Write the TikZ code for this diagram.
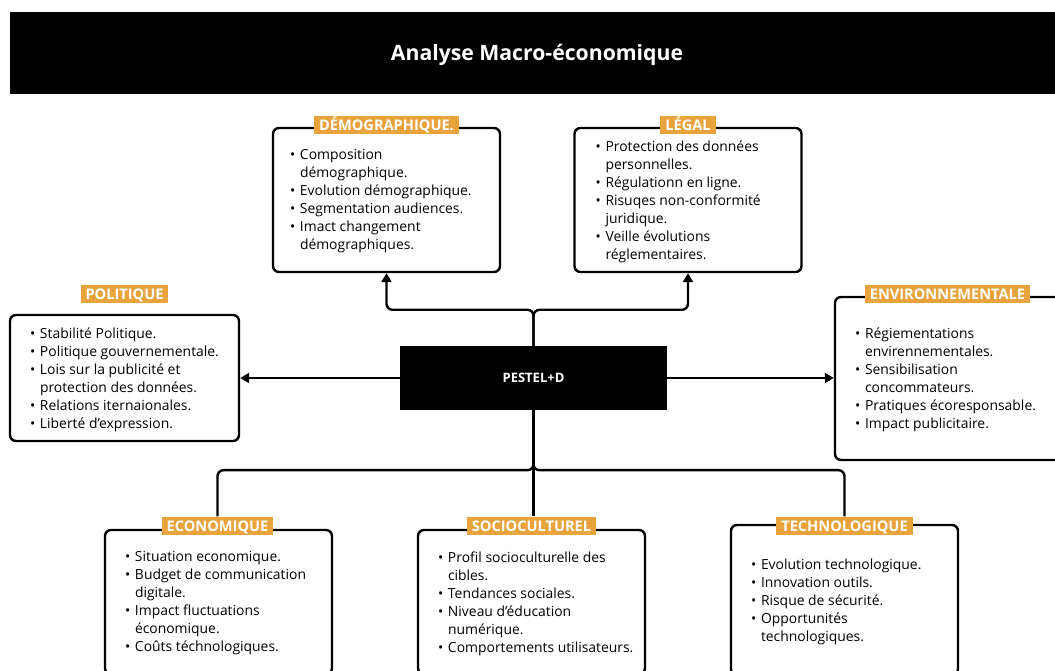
\documentclass[tikz,border=0pt]{standalone}
\usepackage{fontspec}
\setmainfont{Open Sans}
\usetikzlibrary{arrows.meta,positioning}

\definecolor{etiquette}{HTML}{E9A33C}
\newcommand{\puce}{\makebox[10pt][l]{\textbullet}}
\newcommand{\suite}{\hspace*{10pt}}

\begin{document}
\begin{tikzpicture}[
    x=1pt,y=1pt,
    boite/.style={draw,line width=2.4pt,rounded corners=6pt,minimum width=227pt,inner sep=0pt},
    texte/.style={anchor=west,align=left,inner sep=0pt,font=\fontsize{13.9}{18}\selectfont},
    etiq/.style={fill=etiquette,text=white,font=\bfseries\fontsize{14.6}{15}\selectfont,
        inner xsep=5pt,inner ysep=3.5pt,text height=11pt,text depth=0.5pt},
    lien/.style={line width=2.4pt,rounded corners=6pt},
    fleche/.style={lien,-{Triangle[length=9pt,width=10pt]}}
]
\clip (0,0) rectangle (1055,671);
\fill[white] (0,0) rectangle (1055,671);

% Bandeau du titre
\node[fill=black,minimum width=1045pt,minimum height=82pt,inner sep=0pt] (bandeau) at (532.5,618) {};
\node[text=white,font=\bfseries\fontsize{21.2}{24}\selectfont] (titre) at (537,616.5) {Analyse Macro-économique};

% Bloc central
\node[fill=black,minimum width=267pt,minimum height=64pt,inner sep=0pt,text=white,
    font=\bfseries\fontsize{13}{15}\selectfont] (pestel) at (533.5,293) {PESTEL+D};

% Les cadres
\node[boite,minimum height=144pt] (demo) at (386.5,471) {};
\node[boite,minimum height=144pt] (legal) at (688,471) {};
\node[boite,minimum width=229pt,minimum height=126pt] (poli) at (124.5,293) {};
\node[boite,minimum height=163pt] (env) at (948.5,292.5) {};
\node[boite,minimum height=144pt] (eco) at (218.5,69) {};
\node[boite,minimum height=144pt] (socio) at (531.5,69) {};
\node[boite,minimum height=150pt] (tech) at (844.5,71) {};

% Contenu des cadres
\node[texte] (demotxt) at ([xshift=18pt,yshift=-1.5pt]demo.west) {\puce Composition\\\suite démographique.\\\puce Evolution démographique.\\\puce Segmentation audiences.\\\puce Imact changement\\\suite démographiques.};
\node[texte] (legaltxt) at ([xshift=22pt,yshift=-1.5pt]legal.west) {\puce Protection des données\\\suite personnelles.\\\puce Régulationn en ligne.\\\puce Risuqes non-conformité\\\suite juridique.\\\puce Veille évolutions\\\suite réglementaires.};
\node[texte] (politxt) at ([xshift=21pt,yshift=-1.5pt]poli.west) {\puce Stabilité Politique.\\\puce Politique gouvernementale.\\\puce Lois sur la publicité et\\\suite protection des données.\\\puce Relations iternaionales.\\\puce Liberté d’expression.};
\node[texte] (envtxt) at ([xshift=21pt,yshift=-1.5pt]env.west) {\puce Régiementations\\\suite envirennementales.\\\puce Sensibilisation\\\suite concommateurs.\\\puce Pratiques écoresponsable.\\\puce Impact publicitaire.};
\node[texte] (ecotxt) at ([xshift=21pt,yshift=-1.5pt]eco.west) {\puce Situation economique.\\\puce Budget de communication\\\suite digitale.\\\puce Impact fluctuations\\\suite économique.\\\puce Coûts téchnologiques.};
\node[texte] (sociotxt) at ([xshift=21pt,yshift=-1.5pt]socio.west) {\puce Profil socioculturelle des\\\suite cibles.\\\puce Tendances sociales.\\\puce Niveau d’éducation\\\suite numérique.\\\puce Comportements utilisateurs.};
\node[texte] (techtxt) at ([xshift=21pt,yshift=-1.5pt]tech.west) {\puce Evolution technologique.\\\puce Innovation outils.\\\puce Risque de sécurité.\\\puce Opportunités\\\suite technologiques.};

% Etiquettes
\node[etiq] (demolab) at ([yshift=2pt]demo.north) {DÉMOGRAPHIQUE.};
\node[etiq] (legallab) at ([yshift=2pt]legal.north) {LÉGAL};
\node[etiq] (polilab) at ([yshift=20pt]poli.north) {POLITIQUE};
\node[etiq] (envlab) at ([yshift=2pt,xshift=-1pt]env.north) {ENVIRONNEMENTALE};
\node[etiq] (ecolab) at ([yshift=3pt,xshift=-1pt]eco.north) {ECONOMIQUE};
\node[etiq] (sociolab) at ([yshift=3pt]socio.north) {SOCIOCULTUREL};
\node[etiq] (techlab) at ([yshift=-2pt]tech.north) {TECHNOLOGIQUE};

% Liaisons
\draw[fleche] (pestel.north) -- ++(0,36) -| (demo.south);
\draw[fleche] (pestel.north) -- ++(0,36) -| (legal.south);
\draw[fleche] (pestel.west) -- (pestel.west -| poli.east);
\draw[fleche] (pestel.east) -- (pestel.east -| env.west);
\draw[lien] (pestel.south) -- ++(0,-60) -| (ecolab.north);
\draw[lien] (pestel.south) -- ++(0,-60) -| (techlab.north);
\draw[lien] (pestel.south) -- (pestel.south |- sociolab.north);
\end{tikzpicture}
\end{document}
